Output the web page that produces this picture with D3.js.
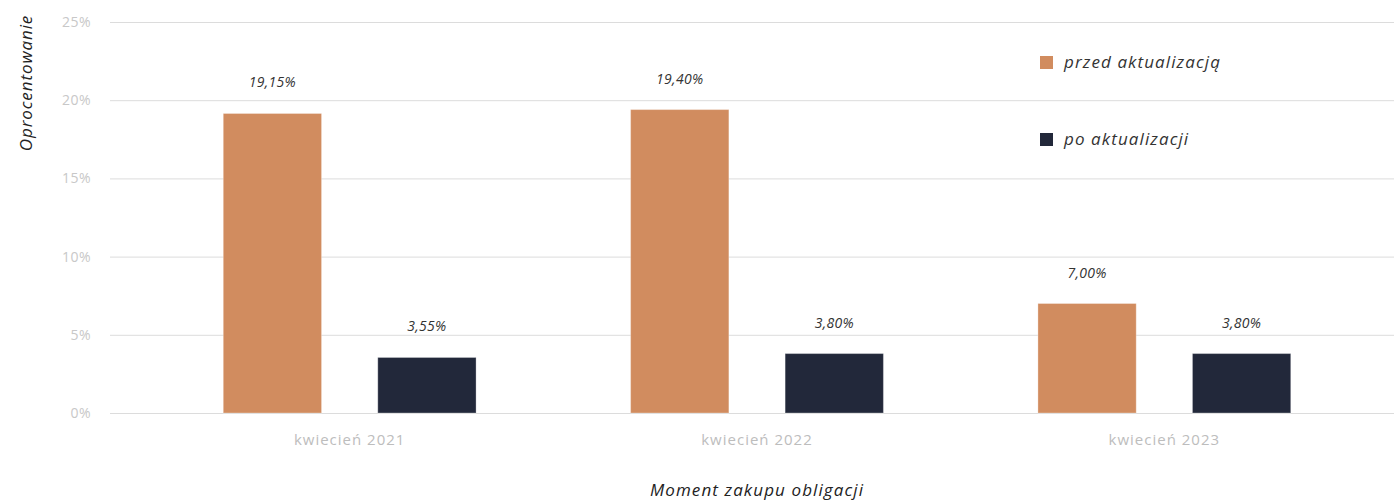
<!DOCTYPE html>
<html>
<head>
<meta charset="utf-8">
<script src="https://cdn.jsdelivr.net/npm/d3@7/dist/d3.min.js"></script>
<style>
  html, body { margin: 0; padding: 0; background: #fff; }
  svg { display: block; font-family: "Open Sans", "DejaVu Sans", sans-serif; }
</style>
</head>
<body>
<svg id="chart" width="1394" height="500"></svg>
<script>
// Bond interest rates by purchase date, before and after the update
const categories = ["kwiecień 2021", "kwiecień 2022", "kwiecień 2023"];
const seriesNames = ["przed aktualizacją", "po aktualizacji"];
const beforeValues = [19.15, 19.40, 7.00];
const afterValues = [3.55, 3.80, 3.80];
const yTicks = [0, 5, 10, 15, 20, 25];
const colors = ["#d18c5f", "#22283a"];

const svg = d3.select("#chart");
const gridLeft = 110, gridRight = 1394;
const yTop = 22, yBottom = 413;

const x0 = d3.scaleBand().domain(categories).range([146, 1368]).padding(0);
const x1 = d3.scaleBand().domain(seriesNames).range([0, x0.bandwidth()])
  .paddingInner(0.364).paddingOuter(0.5);
const y = d3.scaleLinear().domain([0, 25]).range([yBottom, yTop]);
const color = d3.scaleOrdinal().domain(seriesNames).range(colors);

const fmt = v => d3.format(".2f")(v).replace(".", ",") + "%";

// horizontal gridlines
svg.append("g").selectAll("line").data(yTicks).join("line")
  .attr("x1", gridLeft).attr("x2", gridRight)
  .attr("y1", d => y(d) + 0.5).attr("y2", d => y(d) + 0.5)
  .attr("stroke", "#dcdcdc").attr("stroke-width", 1);

// y tick labels
svg.append("g").selectAll("text").data(yTicks).join("text")
  .attr("x", 91).attr("y", d => y(d)).attr("dy", "0.35em")
  .attr("text-anchor", "end").attr("fill", "#c8c8c8").attr("font-size", 14)
  .attr("letter-spacing", 0.5)
  .text(d => d + "%");

// x category labels
svg.append("g").selectAll("text").data(categories).join("text")
  .attr("x", d => x0(d) + x0.bandwidth() / 2).attr("y", 445)
  .attr("text-anchor", "middle").attr("fill", "#bdbdbd").attr("font-size", 15)
  .attr("letter-spacing", 1)
  .text(d => d);

const rows = categories.map((c, i) => ({
  category: c,
  values: [
    { key: seriesNames[0], value: beforeValues[i] },
    { key: seriesNames[1], value: afterValues[i] }
  ]
}));

const groups = svg.append("g").selectAll("g").data(rows).join("g")
  .attr("transform", d => `translate(${x0(d.category)},0)`);

groups.selectAll("rect").data(d => d.values).join("rect")
  .attr("x", d => x1(d.key)).attr("width", x1.bandwidth())
  .attr("y", d => y(d.value)).attr("height", d => y(0) - y(d.value))
  .attr("fill", d => color(d.key))
  .attr("stroke", "rgba(255,255,255,0.3)").attr("stroke-width", 1);

groups.selectAll("text").data(d => d.values).join("text")
  .attr("x", d => x1(d.key) + x1.bandwidth() / 2)
  .attr("y", d => y(d.value) - 26)
  .attr("text-anchor", "middle").attr("font-style", "italic")
  .attr("font-size", 14).attr("fill", "#333").attr("letter-spacing", 0.3)
  .text(d => fmt(d.value));

// legend
const legend = svg.append("g").selectAll("g").data(seriesNames).join("g")
  .attr("transform", (d, i) => `translate(1040,${62 + i * 77})`);
legend.append("rect").attr("x", 0).attr("y", -6).attr("width", 13).attr("height", 13)
  .attr("fill", d => color(d));
legend.append("text").attr("x", 24).attr("y", 0).attr("dy", "0.35em")
  .attr("font-style", "italic").attr("font-size", 17).attr("fill", "#333")
  .attr("letter-spacing", 1.1)
  .text(d => d);

// axis titles
svg.append("text").attr("x", 757).attr("y", 496)
  .attr("text-anchor", "middle").attr("font-style", "italic")
  .attr("font-size", 17).attr("fill", "#222").attr("letter-spacing", 1.1)
  .text("Moment zakupu obligacji");

svg.append("text").attr("transform", "translate(32,83) rotate(-90)")
  .attr("text-anchor", "middle").attr("font-style", "italic")
  .attr("font-size", 17).attr("fill", "#222").attr("letter-spacing", 0.9)
  .text("Oprocentowanie");
</script>
</body>
</html>
